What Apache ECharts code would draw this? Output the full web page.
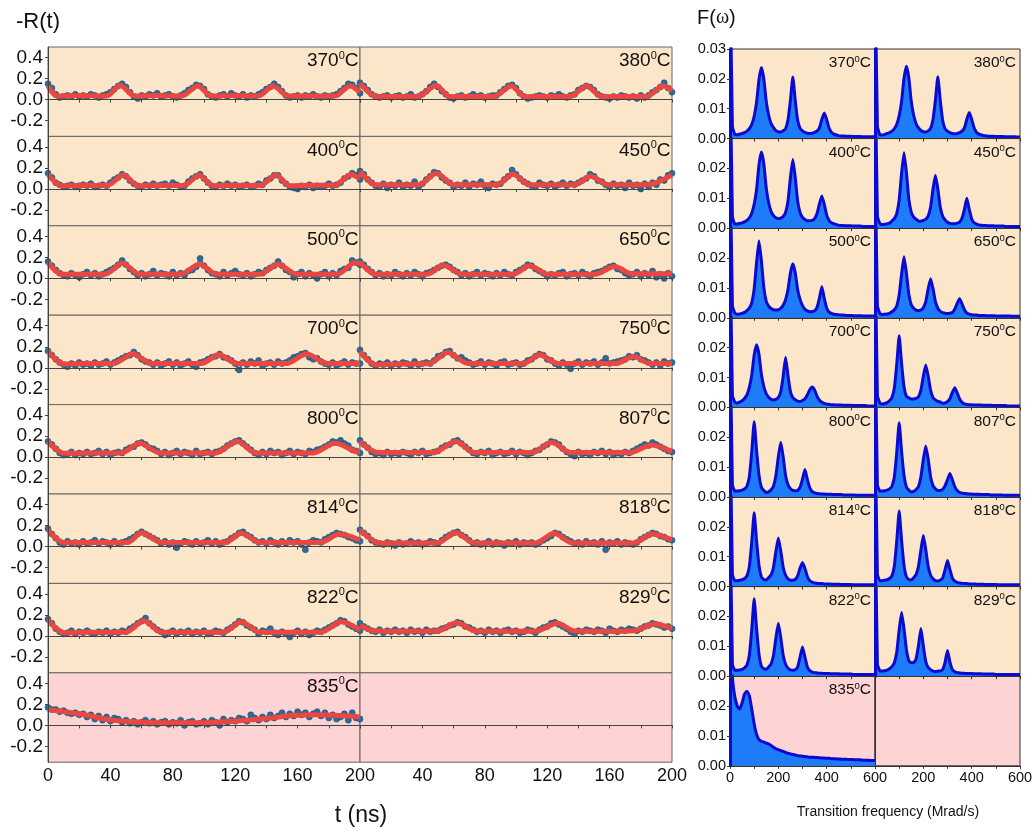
<!DOCTYPE html>
<html><head><meta charset="utf-8">
<script src="https://cdn.jsdelivr.net/npm/echarts@6/dist/echarts.min.js"></script>
<style>html,body{margin:0;padding:0;background:#fff}#c{width:1036px;height:834px}</style>
</head><body><div id="c"></div>
<script>
// ---------------- DATA ----------------
const TEMPS = ['370','380','400','450','500','650','700','750','800','807','814','818','822','829','835'];
const T_STEP = 2.5;      // ns, sampling of the measured points
const OMEGA_STEP = 10;   // Mrad/s, sampling of the spectra
const X_TICKS_LEFT = [0, 40, 80, 120, 160, 200];
const Y_TICKS_LEFT = [-0.2, 0.0, 0.2, 0.4];
const X_TICKS_RIGHT = [0, 200, 400, 600];

// measured -R(t) points (t = 0, 2.5, ..., 200 ns)
const blue370 = [.15,.11,.05,.02,.03,.04,.03,.05,.03,.04, .03,.05,.04,.02,.04,.05,.07,.10,.13,.15, .12,.07,.03,.01,.04,.03,.05,.04,.06,.03, .04,.05,.03,.02,.04,.06,.09,.11,.14,.13, .10,.05,.03,.02,.04,.05,.03,.06,.04,.03, .05,.02,.04,.03,.05,.07,.10,.12,.15,.12, .08,.04,.02,.03,.04,.02,.04,.03,.05,.03, .02,.04,.03,.04,.05,.08,.11,.15,.14,.11, .06];
const blue380 = [.16,.13,.09,.05,.03,.02,.03,.04,.02,.03, .04,.02,.03,.05,.02,.03,.05,.08,.12,.15, .12,.08,.05,.02,.01,.03,.04,.02,.03,.05, .03,.04,.02,.03,.04,.04,.07,.10,.13,.14, .11,.06,.03,.01,.02,.03,.04,.03,.02,.04, .03,.05,.03,.02,.04,.05,.09,.11,.13,.12, .09,.05,.03,.02,.01,.03,.02,.04,.03,.02, .03,.01,.04,.02,.04,.07,.09,.12,.16,.11, .07];
const blue400 = [.15,.11,.06,.04,.02,.03,.04,.02,.03,.04, .03,.05,.02,.03,.04,.03,.06,.09,.11,.14, .12,.08,.05,.03,.02,.04,.03,.05,.03,.04, .05,.03,.06,.04,.02,.03,.07,.10,.12,.14, .10,.06,.03,.02,.04,.03,.05,.03,.04,.02, .03,.04,.02,.03,.05,.04,.08,.10,.13,.13, .08,.05,.02,.01,.00,.03,.02,.04,.01,.03, .02,.03,.05,.03,.04,.06,.10,.12,.15,.13, .09];
const blue450 = [.17,.14,.09,.06,.03,.02,.05,.01,.04,.03, .06,.02,.04,.03,.07,.02,.05,.09,.12,.16, .15,.11,.08,.06,.02,.04,.03,.06,.02,.05, .04,.07,.03,.01,.05,.04,.05,.09,.12,.18, .14,.10,.07,.05,.03,.02,.06,.04,.03,.05, .02,.04,.06,.03,.05,.04,.06,.08,.10,.14, .12,.08,.07,.04,.02,.05,.03,.04,.01,.06, .03,.04,.00,.05,.02,.06,.04,.09,.08,.13, .15];
const blue500 = [.16,.12,.08,.05,.03,.02,.05,.03,.01,.04, .06,.03,.05,.02,.04,.06,.08,.10,.13,.17, .13,.09,.06,.03,.05,.02,.04,.07,.03,.05, .04,.02,.06,.03,.05,.03,.07,.08,.11,.19, .12,.08,.05,.04,.02,.06,.03,.05,.07,.04, .03,.05,.02,.04,.06,.05,.08,.10,.12,.16, .12,.08,.06,.01,.04,.06,.02,.05,.03,.00, .04,.06,.02,.05,.03,.07,.09,.10,.17,.15, .13];
const blue650 = [.16,.13,.09,.06,.03,.05,.02,.04,.03,.06, .04,.02,.05,.03,.06,.04,.02,.05,.06,.08, .10,.12,.13,.11,.08,.06,.03,.05,.02,.04, .06,.03,.05,.04,.02,.05,.03,.06,.04,.03, .06,.08,.10,.13,.12,.09,.07,.05,.02,.04, .03,.05,.06,.02,.04,.05,.03,.06,.04,.02, .05,.06,.07,.09,.11,.12,.09,.08,.05,.03, .04,.06,.02,.05,.03,.07,.01,.04,.00,.05, .02];
const blue700 = [.16,.12,.08,.05,.03,.01,.04,.02,.05,.03, .04,.02,.05,.03,.04,.06,.03,.05,.07,.09, .11,.12,.15,.12,.08,.06,.05,.03,.05,.02, .04,.06,.03,.05,.02,.04,.06,.03,.01,.05, .06,.08,.10,.11,.13,.10,.09,.07,.04,-.02, .05,.03,.06,.04,.07,.02,.04,.05,.03,.06, .04,.05,.07,.10,.11,.13,.14,.10,.08,.09, .06,.04,.03,.05,.02,.04,.06,.03,.05,.04, .04];
const blue750 = [.17,.12,.08,.04,.02,.04,.03,.05,.02,.04, .03,.05,.04,.02,.06,.03,.04,.05,.04,.07, .11,.12,.15,.16,.12,.09,.10,.07,.05,.03, .04,.06,.03,.05,.04,.02,.05,.06,.03,.04, .05,.03,.04,.07,.08,.11,.13,.12,.08,.07, .04,.02,.05,.03,-.01,.04,.06,.03,.05,.04, .06,.03,.05,.09,.04,.05,.06,.07,.08,.11, .10,.12,.08,.07,.05,.03,.05,.02,.06,.04, .05];
const blue800 = [.15,.12,.08,.04,.02,.03,.05,.02,.04,.03, .05,.03,.04,.06,.03,.05,.02,.04,.05,.04, .07,.09,.10,.13,.14,.12,.09,.08,.06,.03, .05,.02,.04,.06,.03,.05,.04,.02,.06,.03, .04,.05,.03,.05,.06,.08,.11,.13,.15,.16, .13,.10,.07,.04,.02,.05,.03,.06,.04,.05, .02,.04,.06,.03,.05,.04,.03,.06,.05,.07, .08,.10,.12,.15,.14,.16,.13,.11,.07,.06, .04];
const blue807 = [.16,.12,.09,.05,.03,.04,.02,.05,.03,.04, .03,.05,.04,.02,.05,.04,.06,.03,.04,.05, .06,.09,.11,.12,.15,.16,.13,.10,.07,.04, .03,.05,.04,.06,.02,.04,.05,.03,.04,.06, .03,.05,.04,.02,.04,.06,.07,.10,.12,.15, .14,.12,.08,.05,.03,.01,.05,.03,.04,.02, .05,.04,.06,.03,.05,.02,.04,.03,.05,.04, .06,.08,.10,.12,.11,.14,.12,.10,.08,.06, .05];
const blue814 = [.17,.12,.08,.04,.02,.05,.03,.04,.02,.05, .03,.04,.06,.03,.05,.04,.02,.05,.03,.04, .05,.07,.09,.12,.14,.12,.10,.08,.06,.03, .05,.02,.04,-.01,.03,.05,.04,.02,.05,.03, .04,.06,.03,.05,.02,.04,.05,.08,.10,.13, .14,.11,.09,.06,.04,.05,.03,.06,.04,.02, .05,.03,.06,.04,.05,.02,-.03,.04,.06,.05, .04,.07,.09,.11,.13,.12,.11,.09,.08,.06, .05];
const blue818 = [.16,.13,.10,.06,.04,.03,.02,.04,.03,.01, .04,.02,.03,.05,.03,.04,.02,.03,.05,.04, .03,.06,.09,.11,.13,.14,.11,.09,.06,.03, .04,.02,.03,.05,.02,.04,.03,.01,.04,.03, .05,.02,.04,.03,.04,.02,.04,.06,.08,.10, .13,.12,.09,.07,.05,.03,.04,.02,.05,.03, .04,.02,.05,-.03,.04,.03,.05,.02,.04,.03, .02,.04,.07,.09,.11,.13,.12,.10,.09,.07, .06];
const blue822 = [.16,.12,.07,.04,.02,.03,.05,.02,.04,.03, .05,.03,.02,.04,.03,.05,.02,.04,.03,.05, .04,.07,.09,.12,.14,.17,.12,.09,.06,.04, .01,.03,.05,.02,.04,.03,.05,.02,.04,.03, .05,.02,.03,.05,.04,.03,.06,.08,.11,.14, .13,.10,.08,.06,.02,.05,.04,.07,.03,.01, .04,.02,-.01,.03,.05,.02,.04,.01,.03,.05, .04,.06,.08,.10,.12,.15,.14,.11,.09,.07, .05];
const blue829 = [.12,.09,.07,.05,.04,.06,.03,.05,.04,.06, .04,.05,.03,.06,.04,.05,.03,.06,.04,.05, .05,.07,.08,.10,.11,.13,.12,.09,.08,.06, .04,.05,.03,.06,.04,.05,.03,.05,.06,.04, .05,.03,.04,.06,.05,.03,.06,.08,.09,.12, .13,.11,.09,.07,.04,.02,.05,.04,.06,.05, .04,.06,.05,.03,.07,.05,.04,.06,.05,.07, .06,.05,.07,.09,.10,.12,.11,.10,.08,.09, .07];
const blue835 = [.17,.15,.15,.13,.14,.12,.11,.12,.10,.11, .08,.10,.06,.09,.05,.08,.04,.07,.06,.03, .05,.02,.04,.01,.03,.05,.02,.04,.01,.03, .04,.01,.03,.02,.05,.00,.03,.04,.01,.02, .04,.01,.05,.03,.00,.06,.03,.05,.04,.07, .06,.04,.10,.07,.05,.08,.06,.10,.07,.09, .12,.08,.11,.09,.13,.10,.12,.08,.11,.13, .09,.12,.07,.10,.06,.08,.11,.05,.12,.07, .06];

// fitted curves: [t (ns), -R(t)] knots
const fit370 = [[0,.13],[6,.033],[20,.04],[37.6,.035],[46.2,.135],[55.8,.033],[70,.04],[85.7,.035],[96,.13],[105,.033],[120,.04],[134.8,.035],[144.4,.13],[154,.033],[170,.035],[184,.035],[193.6,.13],[200,.07]];
const fit380 = [[0,.155],[10.7,.028],[25,.03],[37.4,.03],[48.7,.135],[57.7,.028],[72,.03],[85.9,.03],[97,.13],[105.8,.028],[120,.03],[134.6,.03],[145.3,.13],[154.9,.028],[170,.03],[183.8,.03],[194.4,.13],[200,.085]];
const fit400 = [[0,.14],[8.8,.031],[25,.035],[38,.033],[48.3,.133],[57.9,.031],[72,.035],[86.8,.033],[96.8,.13],[105.9,.031],[120,.035],[135.9,.033],[146.2,.133],[155,.031],[170,.035],[184,.035],[194,.138],[200,.10]];
const fit450 = [[0,.167],[10.2,.04],[25,.04],[37.8,.04],[49,.15],[60.1,.04],[75,.04],[87.7,.04],[98.2,.14],[108.7,.04],[125,.04],[137.5,.04],[148,.12],[159,.04],[175,.04],[186,.045],[200,.135]];
const fit500 = [[0,.15],[9,.04],[25,.04],[36.6,.04],[47.8,.145],[58.7,.04],[72,.04],[84.9,.04],[97.1,.135],[108.4,.04],[122,.04],[135.8,.04],[147.5,.135],[159.3,.04],[172,.04],[185.4,.04],[197,.15],[200,.14]];
const fit650 = [[0,.155],[10,.04],[25,.04],[43,.04],[53.5,.126],[65.4,.04],[80,.04],[98.2,.04],[108.7,.12],[120.5,.04],[135,.04],[150.7,.04],[163.3,.113],[174.3,.045],[190,.045],[200,.045]];
const fit700 = [[0,.155],[10.4,.035],[25,.04],[41.8,.04],[54.3,.132],[66.6,.04],[82,.04],[97.9,.04],[109.7,.123],[121.4,.04],[137,.04],[152.7,.04],[165.8,.13],[178.9,.04],[190,.04],[200,.04]];
const fit750 = [[0,.155],[10,.03],[25,.035],[44.4,.04],[56.2,.145],[69.3,.04],[85,.04],[104.7,.04],[115.2,.123],[127,.04],[145,.04],[163.8,.04],[175.6,.107],[186,.04],[200,.04]];
const fit800 = [[0,.148],[10.4,.037],[25,.04],[47,.04],[58.7,.132],[71.8,.04],[90,.04],[107,.04],[121.4,.148],[133.2,.04],[150,.04],[169.7,.04],[184,.132],[197,.055],[200,.05]];
const fit807 = [[0,.148],[11.5,.044],[25,.045],[47,.044],[61.4,.148],[73.2,.044],[90,.045],[110,.044],[123.1,.139],[134.9,.044],[155,.045],[173,.044],[186.9,.117],[200,.053]];
const fit814 = [[0,.158],[10.4,.037],[25,.04],[51,.04],[60,.132],[73,.04],[95,.04],[113.6,.04],[124,.126],[135.8,.04],[155,.04],[175,.04],[186.7,.12],[200,.063]];
const fit818 = [[0,.158],[12.9,.031],[30,.035],[49.6,.035],[61.4,.132],[73.2,.035],[95,.035],[112.6,.035],[124.4,.126],[136.2,.035],[155,.035],[175.6,.035],[187.4,.12],[200,.063]];
const fit822 = [[0,.151],[10.4,.031],[30,.035],[49.6,.035],[61.4,.145],[73.1,.035],[95,.035],[112.3,.035],[124,.136],[135.8,.035],[155,.035],[175,.035],[188,.136],[200,.056]];
const fit829 = [[0,.1],[10,.047],[30,.045],[49.6,.047],[62,.126],[74.5,.047],[95,.045],[112.6,.047],[126.5,.12],[137.5,.047],[155,.045],[175.6,.05],[188.7,.113],[200,.072]];
const fit835 = [[0,.15],[20,.11],[41,.05],[57,.033],[75,.025],[97,.025],[118.6,.04],[140,.065],[157,.095],[172,.1],[200,.08]];

// F(omega) spectra (omega = 0, 10, ..., 600 Mrad/s)
const spec370 = [.06,.004,.0014,.0013,.0015,.0017,.002,.0025,.0033,.0047, .0075,.0122,.0198,.0238,.02,.0124,.0078,.005,.0037,.0027, .0023,.0022,.0026,.0033,.0063,.0128,.0206,.0127,.0061,.0034, .0026,.0021,.0018,.0017,.0018,.0021,.0025,.0036,.0064,.0086, .0064,.0035,.0021,.0015,.0012,.001,.0009,.0009,.0008,.0008, .0008,.0007,.0007,.0007,.0007,.0006,.0006,.0006,.0006,.0006, .0006];
const spec380 = [.06,.004,.0013,.0012,.0014,.0017,.002,.0025,.0033,.0048, .0076,.0124,.0201,.0242,.0203,.0125,.0078,.005,.0036,.0027, .0023,.0022,.0026,.0034,.0064,.0129,.0207,.0128,.0061,.0033, .0025,.002,.0017,.0016,.0017,.002,.0025,.0036,.0065,.0087, .0065,.0036,.0021,.0015,.0012,.001,.0009,.0008,.0008,.0008, .0007,.0007,.0007,.0007,.0006,.0006,.0006,.0006,.0006,.0005, .0005];
const spec400 = [.06,.004,.0014,.0014,.0016,.0018,.0021,.0026,.0035,.005, .008,.013,.0213,.0255,.0216,.0134,.0085,.0056,.0042,.0035, .0032,.0034,.0039,.0053,.0091,.0169,.023,.017,.009,.0052, .0036,.0029,.0025,.0025,.0026,.0032,.0049,.0081,.0108,.008, .0044,.0026,.0018,.0015,.0012,.001,.0009,.0009,.0008,.0008, .0008,.0007,.0007,.0007,.0007,.0006,.0006,.0006,.0006,.0006, .0006];
const spec450 = [.06,.004,.0016,.0012,.0013,.0015,.0017,.0024,.0032,.005, .0094,.0184,.0253,.0187,.0097,.0054,.0037,.003,.0024,.0023, .0026,.003,.0041,.007,.0131,.0177,.0132,.0071,.004,.0028, .002,.0016,.0015,.0015,.0017,.002,.0033,.0063,.01,.0063, .0031,.0018,.0014,.0011,.001,.0009,.0009,.0008,.0008,.0008, .0007,.0007,.0007,.0007,.0006,.0006,.0006,.0006,.0006,.0006, .0006];
const spec500 = [.06,.004,.0016,.0012,.0013,.0015,.0018,.0024,.0033,.005, .0096,.0186,.0257,.019,.0101,.0055,.0039,.0031,.0027,.0026, .0027,.0032,.0042,.0061,.0095,.015,.0181,.0151,.0094,.0061, .0041,.0029,.0023,.002,.0021,.0023,.0035,.0066,.0104,.0065, .0033,.0019,.0015,.0012,.0011,.001,.0009,.0009,.0008,.0008, .0008,.0007,.0007,.0007,.0007,.0006,.0006,.0006,.0006,.0006, .0006];
const spec650 = [.06,.004,.0015,.0011,.0012,.0013,.0015,.002,.0027,.004, .0076,.0146,.0204,.0149,.0079,.0044,.0032,.0026,.0024,.0026, .0034,.0054,.0097,.0131,.0098,.0054,.0032,.0022,.0017,.0015, .0014,.0015,.0018,.0029,.0048,.0064,.0047,.0027,.0016,.0012, .001,.0009,.0009,.0008,.0008,.0008,.0007,.0007,.0007,.0007, .0006,.0006,.0006,.0006,.0006,.0006,.0006,.0005,.0005,.0005, .0005];
const spec700 = [.06,.004,.0018,.0015,.0018,.0022,.003,.0042,.0067,.0108, .0175,.021,.0177,.011,.007,.0045,.0034,.0027,.0025,.0027, .0033,.0052,.0104,.0168,.0106,.0053,.0032,.0026,.0021,.002, .0023,.0029,.0042,.0059,.0068,.0058,.0038,.0024,.0017,.0013, .0011,.001,.0009,.0009,.0008,.0008,.0008,.0007,.0007,.0007, .0007,.0006,.0006,.0006,.0006,.0006,.0006,.0005,.0005,.0005, .0005];
const spec750 = [.06,.004,.0015,.0011,.0013,.0016,.0022,.0033,.0065,.0144, .024,.0147,.0069,.0037,.0032,.0028,.0028,.003,.0036,.0058, .0104,.0142,.0105,.0058,.0033,.0025,.002,.0018,.0014,.0015, .0019,.0029,.005,.0066,.0049,.0028,.0017,.0012,.001,.0009, .0009,.0008,.0008,.0008,.0008,.0007,.0007,.0007,.0007,.0006, .0006,.0006,.0006,.0006,.0006,.0005,.0005,.0005,.0005,.0005, .0005];
const spec800 = [.06,.004,.002,.002,.0021,.0023,.0027,.0036,.0068,.0151, .0252,.0155,.0073,.0032,.0022,.0015,.0017,.0024,.0036,.0072, .0135,.0183,.0135,.0072,.0041,.0028,.0022,.0021,.0022,.0033, .006,.0092,.0059,.0031,.0018,.0014,.0012,.0011,.001,.001, .0009,.0009,.0009,.0008,.0008,.0008,.0008,.0007,.0007,.0007, .0007,.0007,.0006,.0006,.0006,.0006,.0006,.0006,.0006,.0006, .0006];
const spec807 = [.06,.004,.002,.002,.0021,.0023,.0027,.0036,.0067,.0149, .0249,.0153,.0073,.0033,.0023,.0017,.0019,.0025,.0035,.0068, .0126,.0171,.0127,.0068,.0038,.0027,.0022,.0022,.0026,.0038, .0058,.0079,.0058,.0035,.0022,.0016,.0013,.0012,.0011,.001, .001,.0009,.0009,.0009,.0008,.0008,.0008,.0008,.0007,.0007, .0007,.0007,.0007,.0006,.0006,.0006,.0006,.0006,.0006,.0006, .0006];
const spec814 = [.06,.004,.002,.002,.0021,.0023,.0027,.0036,.0067,.0149, .0247,.0152,.0071,.0032,.0024,.0022,.003,.0039,.0065,.0118, .0163,.0119,.0065,.0038,.0026,.0021,.0021,.0024,.0036,.0062, .0081,.0061,.0034,.002,.0015,.0012,.0011,.001,.001,.0009, .0009,.0009,.0008,.0008,.0008,.0008,.0007,.0007,.0007,.0007, .0007,.0006,.0006,.0006,.0006,.0006,.0006,.0006,.0006,.0006, .0006];
const spec818 = [.06,.004,.002,.002,.0021,.0023,.0027,.0036,.0068,.0152, .0253,.0155,.0072,.0032,.0024,.0022,.003,.004,.0068,.0123, .0171,.0124,.0068,.0038,.0026,.002,.0019,.0021,.0029,.0057, .0087,.0057,.0029,.0018,.0014,.0012,.0011,.001,.001,.0009, .0009,.0009,.0008,.0008,.0008,.0008,.0007,.0007,.0007,.0007, .0007,.0006,.0006,.0006,.0006,.0006,.0006,.0006,.0006,.0006, .0006];
const spec822 = [.06,.004,.002,.002,.0021,.0023,.0028,.0037,.007,.0156, .0259,.0159,.0074,.0033,.0025,.0023,.0031,.0041,.007,.0128, .0177,.0129,.007,.004,.0027,.0021,.002,.0022,.0031,.0064, .0098,.0064,.0031,.0019,.0014,.0012,.0011,.001,.001,.0009, .0009,.0009,.0008,.0008,.0008,.0008,.0007,.0007,.0007,.0007, .0007,.0006,.0006,.0006,.0006,.0006,.0006,.0006,.0006,.0006, .0006];
const spec829 = [.06,.004,.0018,.0017,.0018,.002,.0025,.0032,.0045,.008, .0155,.0213,.0159,.0089,.0052,.0045,.0046,.0058,.0104,.016, .0101,.0049,.0029,.0022,.0017,.0016,.0017,.0018,.0022,.0047, .0086,.0047,.0022,.0015,.0012,.0011,.001,.001,.0009,.0009, .0009,.0008,.0008,.0008,.0008,.0007,.0007,.0007,.0007,.0007, .0006,.0006,.0006,.0006,.0006,.0006,.0006,.0006,.0006,.0006, .0006];
const spec835 = [.06,.03,.023,.02,.019,.021,.024,.025,.0235,.019, .014,.0105,.0088,.0082,.0079,.0076,.0073,.0068,.0062,.0057, .0054,.0051,.0048,.0045,.0042,.004,.0038,.0036,.0034,.0033, .0032,.0031,.003,.0029,.0029,.0028,.0028,.0027,.0026,.0026, .0025,.0025,.0024,.0024,.0023,.0023,.0022,.0022,.0022,.0021, .0021,.0021,.002,.002,.002,.0019,.0019,.0019,.0018,.0018, .0018];

const BLUES = [blue370,blue380,blue400,blue450,blue500,blue650,blue700,blue750,blue800,blue807,blue814,blue818,blue822,blue829,blue835];
const FITS  = [fit370,fit380,fit400,fit450,fit500,fit650,fit700,fit750,fit800,fit807,fit814,fit818,fit822,fit829,fit835];
const SPECS = [spec370,spec380,spec400,spec450,spec500,spec650,spec700,spec750,spec800,spec807,spec814,spec818,spec822,spec829,spec835];

// ---------------- LAYOUT / STYLE ----------------
const FONT = '"Liberation Sans", Arial, sans-serif';
const TXT = '#111';
const BEIGE = '#FBE6C9', PINK = '#FDD3D4';
const L = {x0: 48, w: 312, y0: 47, h: 89.4};
const R = {x0: 730, w: 145, y0: 49, h: 89.6};

const grids = [], xAxes = [], yAxes = [], series = [], graphics = [];

function tempLabel(x, y, t, big) {
  const fs = big ? 19 : 15.5, ss = big ? 11 : 9.5;
  return {type: 'text', x: x, y: y, silent: true, z: 100,
    style: {text: '{n|' + t + '}{s|0}{n|C}', align: 'right', verticalAlign: 'top',
      rich: {
        n: {fontSize: fs, fontFamily: FONT, fill: TXT, lineHeight: big ? 22 : 18},
        s: {fontSize: ss, fontFamily: FONT, fill: TXT, verticalAlign: 'top', lineHeight: big ? 16 : 13}
      }}};
}

for (let r = 0; r < 8; r++) {
  for (let c = 0; c < 2; c++) {
    const idx = r * 2 + c;
    const has = idx < TEMPS.length;
    const bg = r === 7 ? PINK : BEIGE;

    // ---- left: -R(t)
    let gi = grids.length;
    const lx = L.x0 + c * L.w, ly = L.y0 + r * L.h;
    grids.push({left: lx, top: ly, width: L.w, height: L.h, show: true,
      backgroundColor: bg, borderColor: '#666', borderWidth: 1});
    xAxes.push({type: 'value', gridIndex: gi, min: 0, max: 200, interval: 20, z: 5,
      axisLine: {show: true, lineStyle: {color: '#444', width: 1}},
      axisTick: {show: true, length: 3, lineStyle: {color: '#444'}},
      splitLine: {show: false},
      axisLabel: {show: r === 7, margin: 5, fontSize: 18, fontFamily: FONT, color: TXT,
        formatter: (v) => (X_TICKS_LEFT.indexOf(v) >= 0 && !(c === 1 && v === 0)) ? String(v) : ''}});
    yAxes.push({type: 'value', gridIndex: gi, min: -0.35, max: 0.5, z: 5,
      axisLine: {show: c === 0, lineStyle: {color: '#444', width: 1}},
      axisTick: {show: c === 0, length: 3, customValues: Y_TICKS_LEFT, lineStyle: {color: '#444'}},
      splitLine: {show: false},
      axisLabel: {show: c === 0, customValues: Y_TICKS_LEFT, margin: 5, fontSize: 19, fontFamily: FONT, color: TXT,
        formatter: (v) => Number(v).toFixed(1)}});
    if (has) {
      // measured points: jagged trace with markers
      series.push({type: 'line', xAxisIndex: gi, yAxisIndex: gi, silent: true, z: 2,
        showSymbol: true, symbol: 'circle', symbolSize: 6,
        lineStyle: {color: '#2C6C98', width: 2},
        itemStyle: {color: '#2C6C98', borderColor: '#1B4B70', borderWidth: 0.6},
        data: BLUES[idx].map((v, k) => [k * T_STEP, v])});
      series.push({type: 'line', xAxisIndex: gi, yAxisIndex: gi, silent: true, z: 3,
        smooth: 0.3, showSymbol: false, lineStyle: {color: '#EB4640', width: 5},
        data: FITS[idx]});
      graphics.push(tempLabel(lx + L.w - 1.5, ly + 3, TEMPS[idx], true));
    }

    // ---- right: F(omega)
    gi = grids.length;
    const rx = R.x0 + c * R.w, ry = R.y0 + r * R.h;
    grids.push({left: rx, top: ry, width: R.w, height: R.h, show: true,
      backgroundColor: bg, borderColor: '#333', borderWidth: 1});
    const yVals = r === 0 ? [0, 0.01, 0.02, 0.03] : [0, 0.01, 0.02];
    xAxes.push({type: 'value', gridIndex: gi, min: 0, max: 600, interval: 100, z: 5,
      axisLine: {show: true, lineStyle: {color: '#333', width: 1}},
      axisTick: {show: true, length: 3, lineStyle: {color: '#333'}},
      splitLine: {show: false},
      axisLabel: {show: r === 7, margin: 5, fontSize: 14.5, fontFamily: FONT, color: TXT,
        formatter: (v) => (X_TICKS_RIGHT.indexOf(v) >= 0 && !(c === 1 && v === 0)) ? String(v) : ''}});
    yAxes.push({type: 'value', gridIndex: gi, min: 0, max: 0.03, z: 5,
      axisLine: {show: true, lineStyle: {color: has ? '#0A0AD0' : '#333', width: has ? 3 : 1}},
      axisTick: {show: c === 0, length: 3, customValues: yVals, lineStyle: {color: '#333'}},
      splitLine: {show: false},
      axisLabel: {show: c === 0, customValues: yVals, margin: 4, fontSize: 14.5, fontFamily: FONT, color: TXT,
        formatter: (v) => Number(v).toFixed(2)}});
    if (has) {
      series.push({type: 'line', xAxisIndex: gi, yAxisIndex: gi, silent: true, z: 2,
        smooth: 0.15, showSymbol: false, clip: true,
        lineStyle: {color: '#0A0AD0', width: 3},
        areaStyle: {color: '#1E7CF8', opacity: 1},
        data: SPECS[idx].map((v, k) => [k * OMEGA_STEP, v])});
      graphics.push(tempLabel(rx + R.w - 4, ry + 5, TEMPS[idx], false));
    }
  }
}

// titles
graphics.push({type: 'text', x: 16, y: 22, silent: true,
  style: {text: '-R(t)', fontSize: 22, fontFamily: FONT, fill: TXT, verticalAlign: 'middle'}});
graphics.push({type: 'text', x: 697, y: 18, silent: true,
  style: {text: '{a|F(}{w|ω}{a|)}', verticalAlign: 'middle',
    rich: {a: {fontSize: 20, fontFamily: FONT, fill: TXT}, w: {fontSize: 20, fontFamily: '"Liberation Serif", serif', fill: TXT}}}});
graphics.push({type: 'text', x: 361, y: 816, silent: true,
  style: {text: 't (ns)', fontSize: 23, fontFamily: FONT, fill: TXT, align: 'center', verticalAlign: 'middle'}});
graphics.push({type: 'text', x: 888, y: 812, silent: true,
  style: {text: 'Transition frequency (Mrad/s)', fontSize: 14, fontFamily: FONT, fill: TXT, align: 'center', verticalAlign: 'middle'}});

const chart = echarts.init(document.getElementById('c'), null, {renderer: 'canvas'});
chart.setOption({
  animation: false,
  backgroundColor: '#fff',
  grid: grids, xAxis: xAxes, yAxis: yAxes, series: series, graphic: graphics
});
</script></body></html>
